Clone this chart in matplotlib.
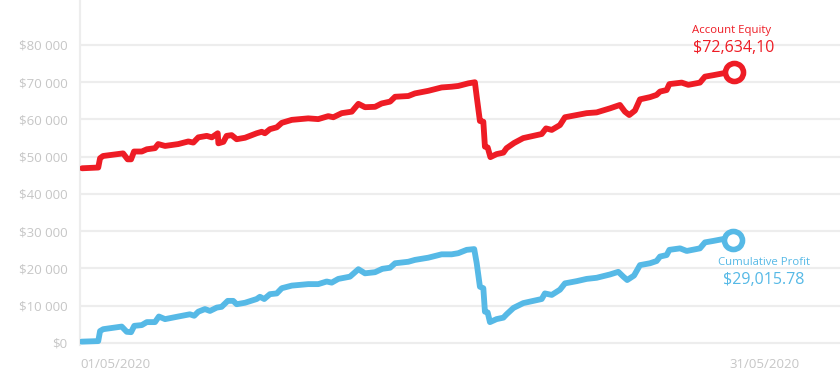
import matplotlib
matplotlib.use("Agg")
import matplotlib.pyplot as plt
from matplotlib.ticker import FuncFormatter

plt.rcParams["font.family"] = ["Open Sans", "DejaVu Sans"]

# day offsets from 01/05/2020 and values in dollars
equity_day = [0.09, 0.80, 0.88, 1.01, 1.89, 2.09, 2.24, 2.37, 2.71, 2.93, 3.29, 3.43, 3.73,
              4.31, 4.75, 4.97, 5.19, 5.56, 5.78, 6.04, 6.07, 6.29, 6.43, 6.65, 6.87, 7.24,
              7.75, 7.97, 8.11, 8.33, 8.63, 8.85, 9.29, 10.01, 10.45, 10.89, 11.11, 11.48,
              11.92, 12.21, 12.50, 12.94, 13.23, 13.60, 13.82, 14.40, 14.69, 15.28, 15.86,
              16.30, 16.59, 17.03, 17.32, 17.40, 17.54, 17.69, 17.76, 17.88, 18.00, 18.27,
              18.57, 18.71, 19.04, 19.44, 19.88, 20.25, 20.44, 20.69, 21.05, 21.27, 21.79,
              22.22, 22.66, 23.25, 23.68, 23.90, 24.09, 24.34, 24.56, 25.00, 25.29, 25.44,
              25.73, 25.85, 26.39, 26.68, 27.19, 27.41, 27.78, 28.21, 28.68]
equity_value = [46900, 47100, 49600, 50200, 50900, 49300, 49300, 51400, 51400, 52000, 52300,
                53400, 52900, 53400, 54100, 53800, 55200, 55600, 55200, 56300, 53600, 54000,
                55600, 55800, 54700, 55100, 56300, 56700, 56300, 57400, 57900, 59100, 59900,
                60300, 60100, 60900, 60600, 61700, 62100, 64200, 63300, 63400, 64300, 64800,
                66100, 66300, 67000, 67700, 68600, 68800, 69000, 69700, 70000, 66100, 59600,
                59400, 52700, 52500, 49900, 50700, 51100, 52300, 53700, 55000, 55600, 56100,
                57600, 57200, 58500, 60600, 61200, 61700, 61900, 63000, 63900, 62100, 61200,
                62400, 65400, 66000, 66600, 67500, 67900, 69500, 69900, 69300, 69900, 71500,
                71900, 72400, 72634.10]

profit_day = [0.07, 0.80, 0.88, 1.02, 1.83, 2.05, 2.24, 2.38, 2.71, 2.93, 3.29, 3.46, 3.73,
              4.31, 4.82, 5.01, 5.19, 5.48, 5.70, 6.00, 6.21, 6.48, 6.72, 6.87, 7.24, 7.75,
              7.89, 8.08, 8.33, 8.63, 8.85, 9.29, 10.01, 10.45, 10.82, 11.04, 11.33, 11.84,
              12.21, 12.50, 12.94, 13.26, 13.60, 13.82, 14.40, 14.69, 15.28, 15.86, 16.30,
              16.59, 16.96, 17.29, 17.40, 17.54, 17.69, 17.76, 17.88, 17.98, 18.27, 18.57,
              18.71, 19.01, 19.44, 19.88, 20.25, 20.39, 20.69, 21.05, 21.27, 21.79, 22.22,
              22.66, 23.25, 23.61, 23.83, 24.00, 24.30, 24.56, 25.00, 25.29, 25.44, 25.73,
              25.85, 26.32, 26.61, 27.19, 27.41, 27.78, 28.21, 28.64]
profit_value = [350, 500, 3200, 3700, 4400, 3000, 2900, 4600, 4800, 5600, 5600, 7100, 6400,
                7100, 7700, 7300, 8400, 9100, 8600, 9500, 9700, 11300, 11300, 10400, 10800,
                11800, 12400, 11800, 13100, 13300, 14700, 15400, 15800, 15800, 16500, 16200,
                17200, 17800, 19800, 18700, 19000, 19900, 20200, 21400, 21800, 22300, 22900,
                23800, 23800, 24100, 25000, 25200, 21400, 15100, 14700, 8400, 8200, 5600,
                6400, 6800, 7700, 9400, 10700, 11300, 11800, 13300, 12900, 14300, 16000,
                16600, 17200, 17500, 18400, 19100, 17800, 16900, 18100, 20900, 21400, 22000,
                23200, 23600, 25000, 25400, 24700, 25400, 27000, 27400, 27900, 27700]

tick_days = [0, 30]
tick_labels = ["01/05/2020", "31/05/2020"]
y_ticks = [0, 10000, 20000, 30000, 40000, 50000, 60000, 70000, 80000]

RED = "#ee1c25"
BLUE = "#56b9e6"
GREY_TEXT = "#c6c6c6"
GRID = "#ededed"


def main():
    fig = plt.figure(figsize=(8.4, 3.83), dpi=100)
    # axes spans pixel x 80..840, y 0..345
    ax = fig.add_axes([80 / 840, (383 - 345.2) / 383, 760 / 840, 345.2 / 383])

    ax.plot(equity_day, equity_value, color=RED, lw=4.2, solid_joinstyle="round",
            solid_capstyle="round", zorder=3)
    ax.plot(profit_day, profit_value, color=BLUE, lw=4.2, solid_joinstyle="round",
            solid_capstyle="round", zorder=3)

    ax.plot(equity_day[-1], equity_value[-1], "o", ms=13, mfc="white", mec=RED, mew=4, zorder=4)
    ax.plot(profit_day[-1], profit_value[-1], "o", ms=13, mfc="white", mec=BLUE, mew=4, zorder=4)

    ax.annotate("Account Equity", (equity_day[-1], equity_value[-1]), xytext=(-1.5, 30),
                textcoords="offset points", ha="center", va="center", color=RED, fontsize=8.2)
    ax.annotate("$72,634,10", (equity_day[-1], equity_value[-1]), xytext=(0, 17.5),
                textcoords="offset points", ha="center", va="center", color=RED, fontsize=11.5)
    ax.annotate("Cumulative Profit", (profit_day[-1], profit_value[-1]), xytext=(22, -16.5),
                textcoords="offset points", ha="center", va="center", color=BLUE, fontsize=8.2)
    ax.annotate("$29,015.78", (profit_day[-1], profit_value[-1]), xytext=(22, -29),
                textcoords="offset points", ha="center", va="center", color=BLUE, fontsize=11.5)

    ax.set_xlim(0, 760 / 22.8)
    ax.set_ylim(-600, 92080)

    ax.set_yticks(y_ticks)
    ax.yaxis.set_major_formatter(FuncFormatter(lambda v, _: f"${v:,.0f}".replace(",", " ")))
    ax.set_xticks(tick_days)
    ax.set_xticklabels(tick_labels)
    ax.get_xticklabels()[0].set_horizontalalignment("left")

    ax.tick_params(axis="both", length=0, colors=GREY_TEXT, labelsize=9.5)
    ax.tick_params(axis="y", pad=9)
    ax.tick_params(axis="x", pad=9)
    ax.grid(False)
    for y in y_ticks:
        ax.axhline(y, color=GRID, lw=1.6, zorder=1)

    for side in ["top", "right", "bottom"]:
        ax.spines[side].set_visible(False)
    ax.spines["left"].set_color(GRID)
    ax.spines["left"].set_linewidth(1.6)

    fig.savefig("out.png", dpi=100)


if __name__ == "__main__":
    main()
